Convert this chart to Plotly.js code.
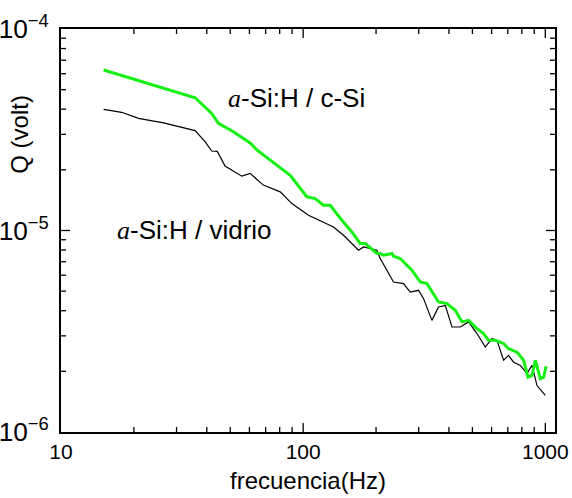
<!DOCTYPE html>
<html>
<head>
<meta charset="utf-8">
<script src="https://cdn.plot.ly/plotly-3.0.1.min.js"></script>
<style>html,body{margin:0;padding:0;background:#fff;}#chart{width:572px;height:498px;}</style>
</head>
<body>
<div id="chart"></div>
<script>
// a-Si:H / c-Si (green)
var freqCSi = [15, 35.8, 41.9, 44.7, 51.5, 56.7, 60.4, 64.4, 88.4, 103.6, 112.1, 121.3, 129.3, 144.5, 158.9, 172.0, 180.4, 201.6, 208.1, 214.7, 232.6, 236.1, 251.6, 281.3, 304.5, 324.5, 362.3, 392.6, 424.8, 452.8, 482.2, 522.3, 555.9, 583.0, 621.4, 672.5, 705.2, 763.9, 813.5, 848.3, 881.2, 909.4, 953.6, 984.0, 1007];
var qCSi = [6.26e-5, 4.56e-5, 3.81e-5, 3.40e-5, 3.09e-5, 2.86e-5, 2.72e-5, 2.51e-5, 1.88e-5, 1.47e-5, 1.44e-5, 1.335e-5, 1.335e-5, 1.125e-5, 9.84e-6, 8.62e-6, 8.62e-6, 7.69e-6, 7.69e-6, 7.54e-6, 7.69e-6, 7.45e-6, 7.26e-6, 6.35e-6, 5.55e-6, 5.45e-6, 4.42e-6, 4.34e-6, 4.02e-6, 3.52e-6, 3.58e-6, 3.26e-6, 3.08e-6, 2.85e-6, 2.85e-6, 2.75e-6, 2.59e-6, 2.49e-6, 2.27e-6, 1.87e-6, 1.91e-6, 2.27e-6, 1.84e-6, 1.87e-6, 2.12e-6];
// a-Si:H / vidrio (black)
var freqVidrio = [15, 17.8, 20.9, 26.5, 35.8, 39.4, 41.9, 44.2, 47.6, 55.8, 60.4, 68.5, 80.4, 89.8, 105.2, 115.7, 133.4, 146.8, 169.3, 177.5, 189.2, 201.6, 208.1, 221.8, 236.1, 259.7, 276.8, 299.5, 314.2, 340.2, 362.3, 386.3, 411.7, 445.6, 482.2, 522.3, 564.9, 602.1, 631.5, 672.5, 705.2, 739.6, 788.3, 840.3, 881.2, 924.2, 1000];
var qVidrio = [3.99e-5, 3.86e-5, 3.60e-5, 3.42e-5, 3.13e-5, 2.75e-5, 2.48e-5, 2.47e-5, 2.09e-5, 1.86e-5, 1.92e-5, 1.68e-5, 1.555e-5, 1.36e-5, 1.19e-5, 1.125e-5, 1.04e-5, 9.47e-6, 7.98e-6, 8.29e-6, 8.14e-6, 7.98e-6, 7.26e-6, 6.35e-6, 5.55e-6, 5.45e-6, 4.95e-6, 5.05e-6, 4.59e-6, 3.58e-6, 4.17e-6, 4.25e-6, 3.32e-6, 3.32e-6, 3.52e-6, 3.08e-6, 2.64e-6, 2.91e-6, 2.85e-6, 2.27e-6, 2.40e-6, 2.22e-6, 2.14e-6, 1.95e-6, 2.14e-6, 1.70e-6, 1.52e-6];

// tick values (decades = major, 2..9 multiples = minor)
var majorX = [100, 1000];
var minorX = [20, 30, 40, 50, 60, 70, 80, 90, 200, 300, 400, 500, 600, 700, 800, 900];
var majorY = [1e-5];
var minorY = [2e-6, 3e-6, 4e-6, 5e-6, 6e-6, 7e-6, 8e-6, 9e-6, 2e-5, 3e-5, 4e-5, 5e-5, 6e-5, 7e-5, 8e-5, 9e-5];

var FONT = 'Liberation Sans, Arial, Helvetica, sans-serif';
var SERIF = "'Liberation Serif', 'Times New Roman', serif";
var MAJLEN = 9, MINLEN = 5, TW = 1.3;

var traces = [
  {x: freqVidrio, y: qVidrio, type: 'scatter', mode: 'lines', line: {color: '#000000', width: 1.2}, hoverinfo: 'skip'},
  {x: freqCSi, y: qCSi, type: 'scatter', mode: 'lines', line: {color: '#14f014', width: 3}, hoverinfo: 'skip'}
];

// inward tick marks on all four sides, placed through the axes' own scales
var shapes = [];
function xTicks(vals, len) {
  vals.forEach(function (v) {
    shapes.push({type: 'line', xref: 'x', yref: 'paper', x0: v, x1: v, ysizemode: 'pixel', yanchor: 0, y0: 0, y1: len, line: {color: '#000', width: TW}});
    shapes.push({type: 'line', xref: 'x', yref: 'paper', x0: v, x1: v, ysizemode: 'pixel', yanchor: 1, y0: 0, y1: -len, line: {color: '#000', width: TW}});
  });
}
function yTicks(vals, len) {
  vals.forEach(function (v) {
    shapes.push({type: 'line', yref: 'y', xref: 'paper', y0: v, y1: v, xsizemode: 'pixel', xanchor: 0, x0: 0, x1: len, line: {color: '#000', width: TW}});
    shapes.push({type: 'line', yref: 'y', xref: 'paper', y0: v, y1: v, xsizemode: 'pixel', xanchor: 1, x0: 0, x1: -len, line: {color: '#000', width: TW}});
  });
}
xTicks(majorX, MAJLEN); xTicks(minorX, MINLEN);
yTicks(majorY, MAJLEN); yTicks(minorY, MINLEN);

function axis(extra) {
  return Object.assign({
    type: 'log', showgrid: false, zeroline: false, automargin: false,
    showline: true, linecolor: '#000', linewidth: 2, mirror: true,
    ticks: '', dtick: 1,
    tickfont: {family: FONT, size: 21, color: '#000'}
  }, extra);
}

var layout = {
  width: 572, height: 498,
  margin: {l: 61, r: 17, t: 29, b: 66},
  showlegend: false,
  font: {family: FONT, color: '#000'},
  xaxis: axis({
    range: [1, 3.04], exponentformat: 'none',
    title: {text: 'frecuencia(Hz)', font: {family: FONT, size: 24}, standoff: 10}
  }),
  yaxis: axis({
    range: [-6, -4], exponentformat: 'power', showexponent: 'all', ticklabelstandoff: 6
  }),
  shapes: shapes,
  annotations: [
    {xref: 'paper', yref: 'paper', x: -0.083, y: 0.74, xanchor: 'center', yanchor: 'middle', showarrow: false,
     textangle: -90, text: 'Q (volt)', font: {family: FONT, size: 24, color: '#000'}},
    {xref: 'paper', yref: 'paper', x: 0.477, y: 0.829, xanchor: 'center', yanchor: 'middle', showarrow: false,
     text: '<i><span style="font-family:' + SERIF + '">a</span></i>-Si:H / c-Si',
     font: {family: FONT, size: 26, color: '#000'}},
    {xref: 'paper', yref: 'paper', x: 0.271, y: 0.501, xanchor: 'center', yanchor: 'middle', showarrow: false,
     text: '<i><span style="font-family:' + SERIF + '">a</span></i>-Si:H / vidrio',
     font: {family: FONT, size: 26, color: '#000'}}
  ]
};

Plotly.newPlot('chart', traces, layout, {staticPlot: true, displayModeBar: false});
</script>
</body>
</html>
